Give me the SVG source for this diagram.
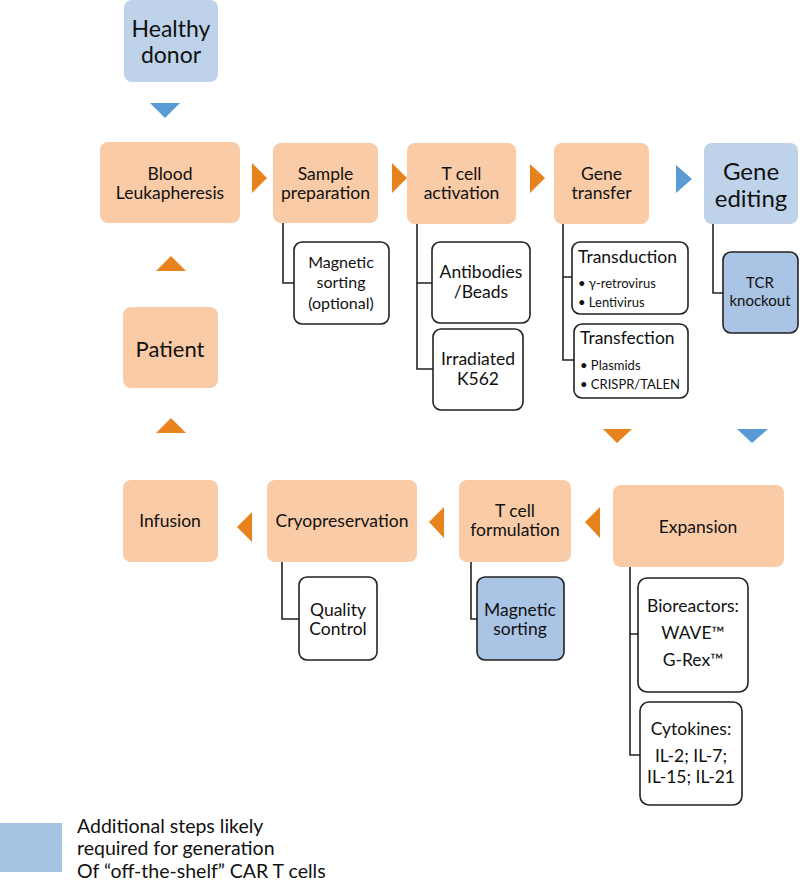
<svg xmlns="http://www.w3.org/2000/svg" width="800" height="883" viewBox="0 0 800 883">
<style>
text{font-family:Lato,"Open Sans","Liberation Sans",sans-serif;fill:#111;text-anchor:middle}
.o{fill:#F9CBA6}
.b{fill:#BED3EA}
.w{fill:#fff;stroke:#222;stroke-width:1.6}
.bw{fill:#A9C4E4;stroke:#222;stroke-width:1.6}
.ao{fill:#E8821C}
.ab{fill:#5B9BD5}
.c{fill:none;stroke:#222;stroke-width:1.6}
.m{font-size:17.5px}
.s{font-size:13px;text-anchor:start}
.h{font-size:17.5px;text-anchor:start}
.l{font-size:19.5px;text-anchor:start}
</style>
<rect width="800" height="883" fill="#fff"/>
<g id="connectors">
<polygon class="ab" points="150,103 180,103 165,118"/>
<polygon class="ao" points="252,163 267,178 252,193"/>
<polygon class="ao" points="392,163 407,178 392,193"/>
<polygon class="ao" points="530,164 545,178 530,193"/>
<polygon class="ab" points="676,165 692,179 676,193"/>
<polygon class="ao" points="603,429 632,429 617,443"/>
<polygon class="ab" points="737,429 768,429 752,443"/>
<polygon class="ao" points="156,271 186,271 171,256"/>
<polygon class="ao" points="156,433 186,433 171,418"/>
<polygon class="ao" points="252,512 252,542 237,527"/>
<polygon class="ao" points="444,507 444,538 429,522"/>
<polygon class="ao" points="600,507 600,538 585,522"/>
<path class="c" d="M283,222 V283 H294"/>
<path class="c" d="M417,224 V369 H433 M417,283 H432"/>
<path class="c" d="M563,224 V360 H574 M563,277 H572"/>
<path class="c" d="M713,224 V293 H723"/>
<path class="c" d="M282,562 V619 H299"/>
<path class="c" d="M471,562 V619 H477"/>
<path class="c" d="M630,567 V755 H640 M630,634 H638"/>
</g>
<g id="healthy-donor"><rect class="b" x="124" y="0" width="94" height="82" rx="8"/><text x="171" y="37" font-size="23">Healthy</text><text x="171" y="63" font-size="23">donor</text></g>
<g id="blood-leukapheresis"><rect class="o" x="100" y="142" width="140" height="81" rx="8"/><text class="m" x="170" y="180">Blood</text><text class="m" x="170" y="199">Leukapheresis</text></g>
<g id="sample-preparation"><rect class="o" x="273" y="143" width="105" height="80" rx="8"/><text class="m" x="325.5" y="180">Sample</text><text class="m" x="325.5" y="199">preparation</text></g>
<g id="t-cell-activation"><rect class="o" x="407" y="143" width="109" height="81" rx="8"/><text class="m" x="461.5" y="180">T cell</text><text class="m" x="461.5" y="199">activation</text></g>
<g id="gene-transfer"><rect class="o" x="554" y="143" width="95" height="81" rx="8"/><text class="m" x="601.5" y="180">Gene</text><text class="m" x="601.5" y="199">transfer</text></g>
<g id="gene-editing"><rect class="b" x="704" y="143" width="94" height="81" rx="8"/><text x="751" y="180" font-size="24">Gene</text><text x="751" y="207" font-size="24">editing</text></g>
<g id="magnetic-sorting-optional"><rect class="w" x="294" y="242" width="95" height="82" rx="8"/><text x="341" y="268" font-size="16">Magnetic</text><text x="341" y="288" font-size="16">sorting</text><text x="341" y="309" font-size="16">(optional)</text></g>
<g id="antibodies-beads"><rect class="w" x="432" y="242" width="98" height="81" rx="8"/><text class="m" x="481" y="278">Antibodies</text><text class="m" x="481" y="298">/Beads</text></g>
<g id="irradiated-k562"><rect class="w" x="433" y="329" width="90" height="81" rx="8"/><text class="m" x="478" y="365">Irradiated</text><text class="m" x="478" y="385">K562</text></g>
<g id="transduction"><rect class="w" x="572" y="242" width="116" height="72" rx="8"/><text class="h" x="578" y="263">Transduction</text><text class="s" x="578" y="288">• γ-retrovirus</text><text class="s" x="578" y="307">• Lentivirus</text></g>
<g id="transfection"><rect class="w" x="574" y="324" width="114" height="74" rx="8"/><text class="h" x="580" y="344">Transfection</text><text class="s" x="580" y="370">• Plasmids</text><text class="s" x="580" y="389">• CRISPR/TALEN</text></g>
<g id="tcr-knockout"><rect class="bw" x="723" y="252" width="75" height="81" rx="8"/><text x="760" y="288" font-size="15">TCR</text><text x="760" y="306" font-size="15">knockout</text></g>
<g id="patient"><rect class="o" x="123" y="307" width="95" height="81" rx="8"/><text x="170" y="357" font-size="22">Patient</text></g>
<g id="infusion"><rect class="o" x="123" y="480" width="95" height="82" rx="8"/><text class="m" x="170" y="527">Infusion</text></g>
<g id="cryopreservation"><rect class="o" x="267" y="480" width="150" height="82" rx="8"/><text class="m" x="342" y="527">Cryopreservation</text></g>
<g id="t-cell-formulation"><rect class="o" x="459" y="480" width="112" height="82" rx="8"/><text class="m" x="515" y="517">T cell</text><text class="m" x="515" y="536">formulation</text></g>
<g id="expansion"><rect class="o" x="613" y="485" width="171" height="82" rx="8"/><text class="m" x="698" y="533">Expansion</text></g>
<g id="quality-control"><rect class="w" x="299" y="577" width="78" height="83" rx="8"/><text class="m" x="338" y="616">Quality</text><text class="m" x="338" y="635">Control</text></g>
<g id="magnetic-sorting"><rect class="bw" x="477" y="577" width="87" height="83" rx="8"/><text class="m" x="520" y="616">Magnetic</text><text class="m" x="520" y="635">sorting</text></g>
<g id="bioreactors"><rect class="w" x="638" y="578" width="110" height="114" rx="9"/><text class="m" x="693" y="612">Bioreactors:</text><text class="m" x="693" y="639">WAVE™</text><text class="m" x="693" y="666">G-Rex™</text></g>
<g id="cytokines"><rect class="w" x="640" y="702" width="102" height="103" rx="9"/><text class="m" x="691" y="735">Cytokines:</text><text class="m" x="691" y="762">IL-2; IL-7;</text><text class="m" x="691" y="783">IL-15; IL-21</text></g>
<g id="legend"><rect x="0" y="823" width="62" height="49" fill="#A7C3E3"/><text class="l" x="77" y="833">Additional steps likely</text><text class="l" x="77" y="855">required for generation</text><text class="l" x="77" y="878">Of “off-the-shelf” CAR T cells</text></g>
</svg>
